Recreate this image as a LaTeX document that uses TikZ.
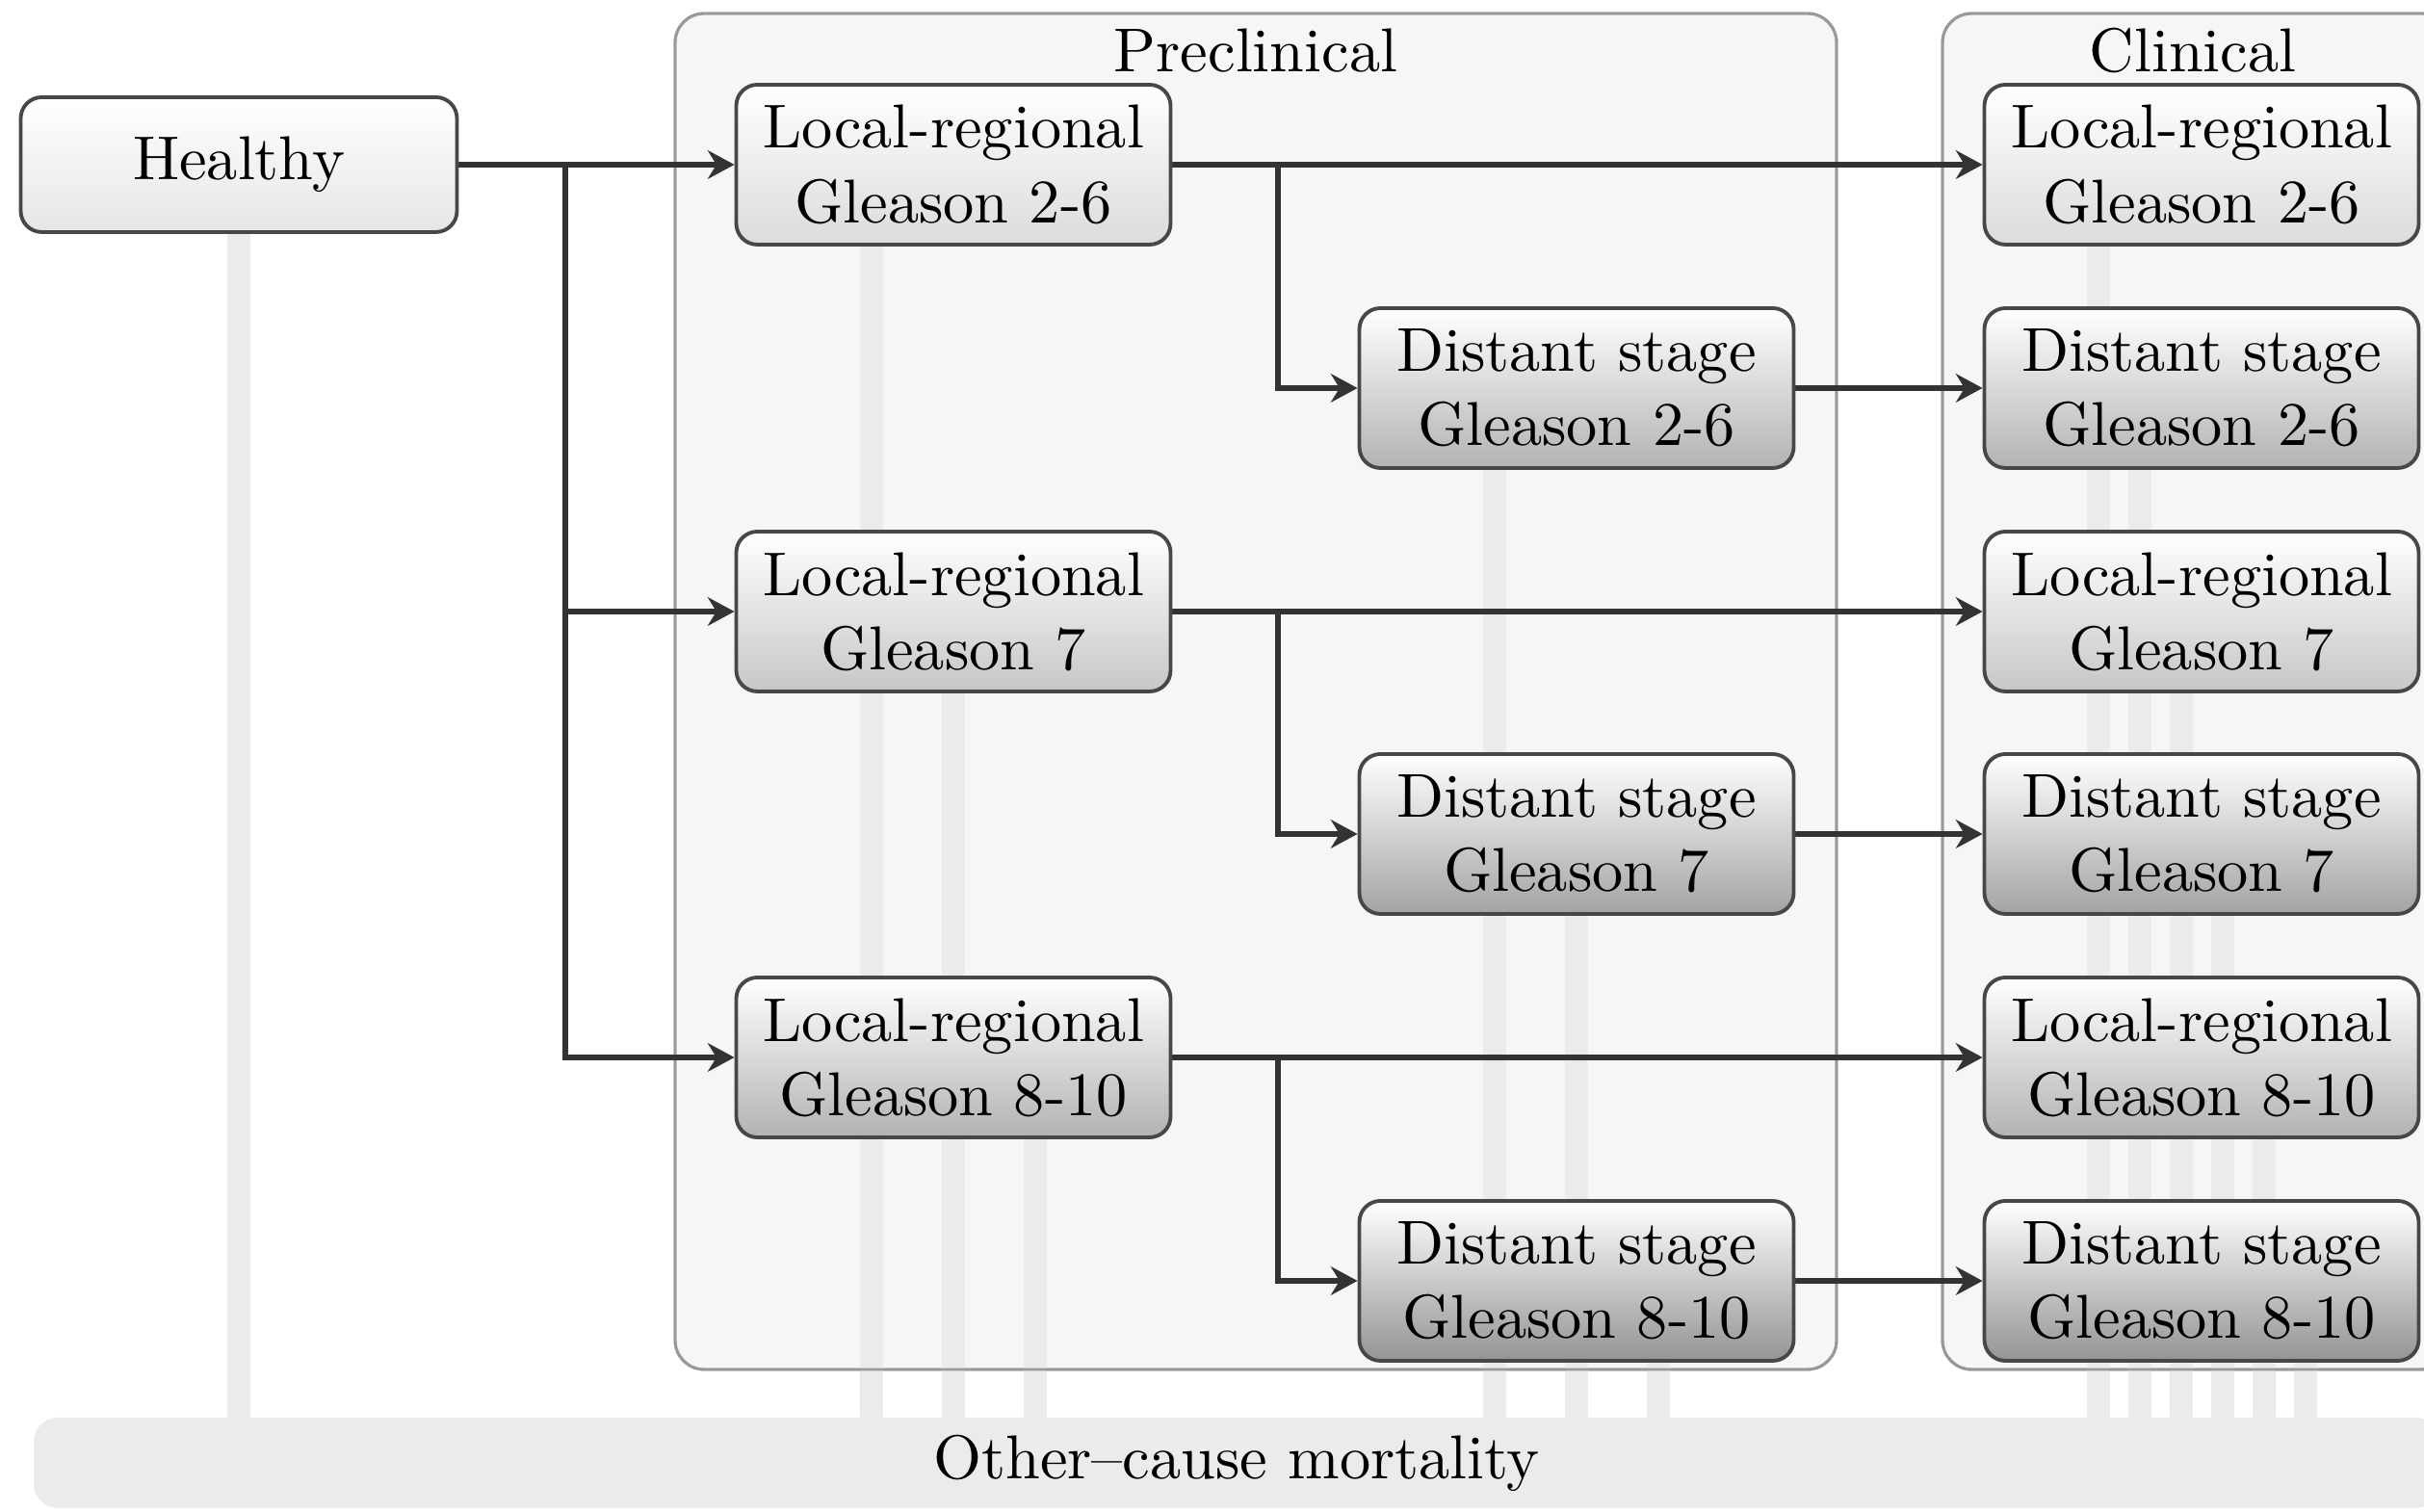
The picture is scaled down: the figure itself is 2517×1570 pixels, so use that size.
\documentclass[tikz,border=0pt]{standalone}
\usetikzlibrary{arrows.meta,positioning}
\pgfdeclarelayer{bg}
\pgfdeclarelayer{bars}
\pgfdeclarelayer{lines}
\pgfdeclarelayer{conn}
\pgfsetlayers{bg,bars,lines,conn,main}
\def\pxu{0.05464mm}
\begin{document}
\begin{tikzpicture}[x=0.05464mm,y=-0.05464mm,
  every node/.style={font=\normalsize},
  state/.style={draw=black!72, line width=0.6pt, rounded corners=3.4pt,
    minimum width=451*\pxu, minimum height=166*\pxu, align=center,
    inner sep=0pt, top color=white, bottom color=#1},
  container/.style={fill=black!3.5, draw=black!40, line width=0.45pt, rounded corners=4.7pt},
  containerline/.style={draw=black!40, line width=0.45pt, rounded corners=4.7pt},
  bar/.style={draw=black!8, line width=24*\pxu},
  arr/.style={draw=black!80, line width=0.85pt, -{Stealth[length=4.3pt,width=4.6pt,inset=1.4pt]}},
  title/.style={inner sep=0pt}
]
\useasboundingbox (0,0) rectangle (2517,1570);
\clip (0,0) rectangle (2517,1570);

% nodes
\node[state=black!10, minimum width=453*\pxu, minimum height=140*\pxu] (H) at (248,171) {Healthy};

\node[state=black!14] (P1) at (990,171) {Local-regional\\Gleason 2-6};
\node[state=black!30] (D1) at (1637,403) {Distant stage\\Gleason 2-6};
\node[state=black!22] (P2) at (990,635) {Local-regional\\Gleason 7};
\node[state=black!36] (D2) at (1637,866) {Distant stage\\Gleason 7};
\node[state=black!30] (P3) at (990,1098) {Local-regional\\Gleason 8-10};
\node[state=black!42] (D3) at (1637,1330) {Distant stage\\Gleason 8-10};

\node[state=black!14] (C1) at (2286,171) {Local-regional\\Gleason 2-6};
\node[state=black!30] (C2) at (2286,403) {Distant stage\\Gleason 2-6};
\node[state=black!22] (C3) at (2286,635) {Local-regional\\Gleason 7};
\node[state=black!36] (C4) at (2286,866) {Distant stage\\Gleason 7};
\node[state=black!30] (C5) at (2286,1098) {Local-regional\\Gleason 8-10};
\node[state=black!42] (C6) at (2286,1330) {Distant stage\\Gleason 8-10};

\node[fill=black!8, rounded corners=3.9pt, minimum width=2498*\pxu,
  minimum height=94*\pxu, inner sep=0pt] (mort) at (1284,1519) {Other–cause mortality};

\node[title] (pret) at (1304,53) {Preclinical};
\node[title] (clit) at (2277,53) {Clinical};

% containers
\begin{pgfonlayer}{bg}
\path[container] (701,14) rectangle (1907,1422);
\path[container] (2017,14) rectangle (2545,1422);
\end{pgfonlayer}
\begin{pgfonlayer}{lines}
\path[containerline] (701,14) rectangle (1907,1422);
\path[containerline] (2017,14) rectangle (2545,1422);
\end{pgfonlayer}

% mortality bars
\begin{pgfonlayer}{bars}
\draw[bar] (H.center) -- (H.center |- mort.center);
\draw[bar] ([xshift=-85*\pxu]P1.center) -- ([xshift=-85*\pxu]P1.center |- mort.center);
\draw[bar] (P2.center) -- (P2.center |- mort.center);
\draw[bar] ([xshift=85*\pxu]P3.center) -- ([xshift=85*\pxu]P3.center |- mort.center);
\draw[bar] ([xshift=-85*\pxu]D1.center) -- ([xshift=-85*\pxu]D1.center |- mort.center);
\draw[bar] (D2.center) -- (D2.center |- mort.center);
\draw[bar] ([xshift=85*\pxu]D3.center) -- ([xshift=85*\pxu]D3.center |- mort.center);
\draw[bar] ([xshift=-107.5*\pxu]C1.center) -- ([xshift=-107.5*\pxu]C1.center |- mort.center);
\draw[bar] ([xshift=-64.5*\pxu]C2.center) -- ([xshift=-64.5*\pxu]C2.center |- mort.center);
\draw[bar] ([xshift=-21.5*\pxu]C3.center) -- ([xshift=-21.5*\pxu]C3.center |- mort.center);
\draw[bar] ([xshift=21.5*\pxu]C4.center) -- ([xshift=21.5*\pxu]C4.center |- mort.center);
\draw[bar] ([xshift=64.5*\pxu]C5.center) -- ([xshift=64.5*\pxu]C5.center |- mort.center);
\draw[bar] ([xshift=107.5*\pxu]C6.center) -- ([xshift=107.5*\pxu]C6.center |- mort.center);
\end{pgfonlayer}

% connectors
\coordinate (b0) at (587,171);
\coordinate (b1) at (1327,171);
\coordinate (b2) at (1327,635);
\coordinate (b3) at (1327,1098);
\begin{pgfonlayer}{conn}
\draw[arr] (H.east) -- (P1.west);
\draw[arr] (H.east) -- (b0) |- (P2.west);
\draw[arr] (H.east) -- (b0) |- (P3.west);
\draw[arr] (P1.east) -- (C1.west);
\draw[arr] (P1.east) -- (b1) |- (D1.west);
\draw[arr] (P2.east) -- (C3.west);
\draw[arr] (P2.east) -- (b2) |- (D2.west);
\draw[arr] (P3.east) -- (C5.west);
\draw[arr] (P3.east) -- (b3) |- (D3.west);
\draw[arr] (D1.east) -- (C2.west);
\draw[arr] (D2.east) -- (C4.west);
\draw[arr] (D3.east) -- (C6.west);
\end{pgfonlayer}

\end{tikzpicture}
\end{document}
